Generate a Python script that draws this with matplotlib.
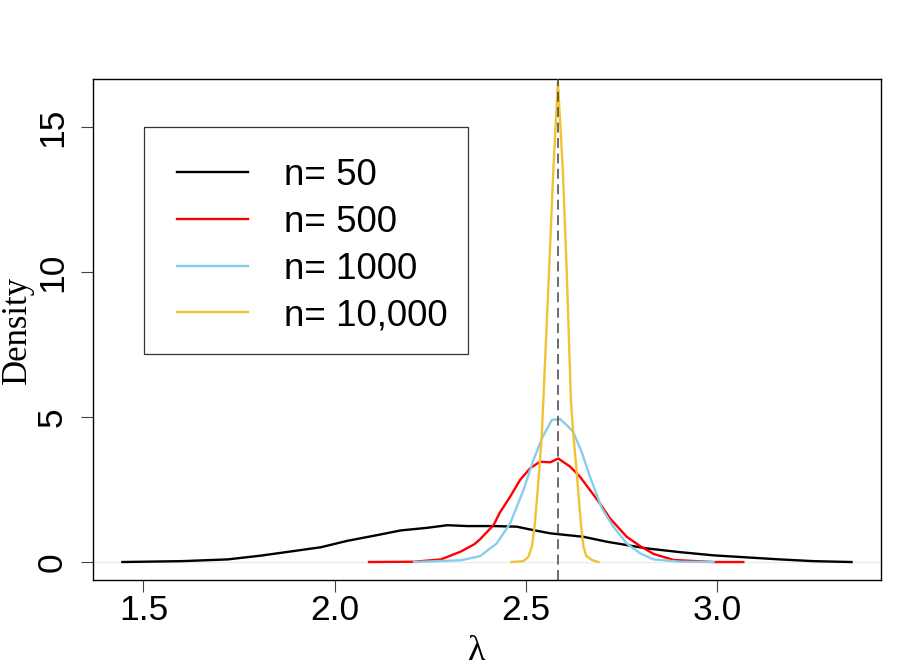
import matplotlib
matplotlib.use("Agg")
import matplotlib.pyplot as plt
from matplotlib.patches import Rectangle

# ---- data ----
x_n50 = [1.445, 1.60, 1.72, 1.807, 1.894, 1.964, 2.033, 2.112, 2.173, 2.242, 2.295, 2.347,
         2.38, 2.417, 2.476, 2.520, 2.564, 2.607, 2.651, 2.712, 2.816, 2.904, 2.991, 3.078,
         3.165, 3.253, 3.352]
y_n50 = [0.0, 0.03, 0.09, 0.22, 0.38, 0.51, 0.73, 0.93, 1.09, 1.18, 1.27, 1.24,
         1.24, 1.24, 1.22, 1.10, 0.99, 0.93, 0.87, 0.70, 0.47, 0.34, 0.23, 0.16,
         0.09, 0.03, 0.0]

x_n500 = [2.090, 2.208, 2.278, 2.330, 2.365, 2.380, 2.416, 2.432, 2.459, 2.485, 2.511, 2.537,
          2.564, 2.585, 2.616, 2.642, 2.668, 2.694, 2.720, 2.764, 2.799, 2.834, 2.887, 2.991, 3.069]
y_n500 = [0.0, 0.01, 0.09, 0.36, 0.61, 0.78, 1.28, 1.70, 2.25, 2.83, 3.23, 3.46,
          3.44, 3.57, 3.29, 2.94, 2.48, 2.02, 1.51, 0.87, 0.55, 0.28, 0.07, 0.0, 0.0]

x_n1000 = [2.208, 2.330, 2.380, 2.424, 2.459, 2.494, 2.520, 2.542, 2.568, 2.590, 2.611,
           2.624, 2.646, 2.668, 2.699, 2.729, 2.764, 2.799, 2.834, 2.904, 2.991]
y_n1000 = [0.0, 0.06, 0.20, 0.64, 1.33, 2.48, 3.52, 4.26, 4.90, 4.93, 4.67,
           4.49, 3.80, 2.94, 1.85, 1.22, 0.64, 0.30, 0.09, 0.01, 0.0]

x_n10000 = [2.463, 2.494, 2.507, 2.516, 2.523, 2.529, 2.536, 2.542, 2.546, 2.561, 2.572,
            2.584, 2.597, 2.607, 2.618, 2.624, 2.632, 2.639, 2.645, 2.651, 2.658, 2.673, 2.690]
y_n10000 = [0.0, 0.03, 0.18, 0.53, 1.22, 2.14, 3.29, 4.44, 5.59, 10.07, 13.5,
            16.56, 13.5, 10.07, 5.59, 4.44, 3.29, 2.14, 1.22, 0.53, 0.21, 0.07, 0.0]

true_lambda = 2.583
labels = ["n= 50", "n= 500", "n= 1000", "n= 10,000"]
colors = ["#000000", "#FF0000", "#87CEEB", "#F1C232"]
x_ticks = [1.5, 2.0, 2.5, 3.0]
x_ticklabels = ["1.5", "2.0", "2.5", "3.0"]
y_ticks = [0, 5, 10, 15]
y_ticklabels = ["0", "5", "10", "15"]

# ---- figure ----
W, H = 897, 671
fig = plt.figure(figsize=(W / 100, H / 100), dpi=100)
L, R, T, B = 93.3, 881, 79, 580
ax = fig.add_axes([L / W, 1 - B / H, (R - L) / W, (B - T) / H])

ax.axhline(0, color="#EBEBEB", lw=1.0, zorder=1)
series = [(x_n50, y_n50), (x_n500, y_n500), (x_n1000, y_n1000), (x_n10000, y_n10000)]
handles = []
for (xs, ys), c, lab in zip(series, colors, labels):
    h, = ax.plot(xs, ys, color=c, lw=1.7, label=lab, zorder=3, solid_joinstyle="round")
    handles.append(h)
ax.axvline(true_lambda, color="#444444", lw=1.1, ls=(0, (6.5, 3.6)), zorder=4)

ax.set_xlim(1.369, 3.429)
ax.set_ylim(-0.62, 16.66)

ax.set_xticks(x_ticks)
ax.set_xticklabels(x_ticklabels)
ax.set_yticks(y_ticks)
ax.set_yticklabels(y_ticklabels, rotation=90, va="center")
sans = "Liberation Sans"
for lab in ax.get_xticklabels() + ax.get_yticklabels():
    lab.set_fontfamily(sans)
    lab.set_fontsize(25.5)
ax.tick_params(axis="both", direction="out", length=8.6, width=0.8, color="#444444")
ax.tick_params(axis="x", pad=1.5)
ax.tick_params(axis="y", pad=9)
for sp in ax.spines.values():
    sp.set_linewidth(1.0)
    sp.set_color("black")

# axis titles
fig.text(17 / W, 1 - 330 / H, "Density", rotation=90, ha="center", va="center",
         family="Liberation Serif", fontsize=25)
fig.text(476.7 / W, 1 - 651 / H, "λ", ha="center", va="center",
         family="Liberation Serif", fontsize=26)

# legend (frame drawn separately, inside the axes' drawing order)
frame = Rectangle((144 / W, 1 - 354 / H), (467.7 - 144) / W, (354 - 126.7) / H,
                  transform=fig.transFigure, facecolor="white", edgecolor="#333333",
                  lw=0.9, zorder=6, clip_on=False)
ax.add_patch(frame)
leg = ax.legend(handles=handles, labels=labels, loc="upper left",
                bbox_to_anchor=(177 / W, 1 - 158 / H), bbox_transform=fig.transFigure,
                frameon=False, borderpad=0, borderaxespad=0, handlelength=1.93,
                handletextpad=0.97, labelspacing=0.32,
                prop={"family": sans, "size": 26.5})
leg.set_zorder(7)

fig.savefig("out.png", dpi=100)
